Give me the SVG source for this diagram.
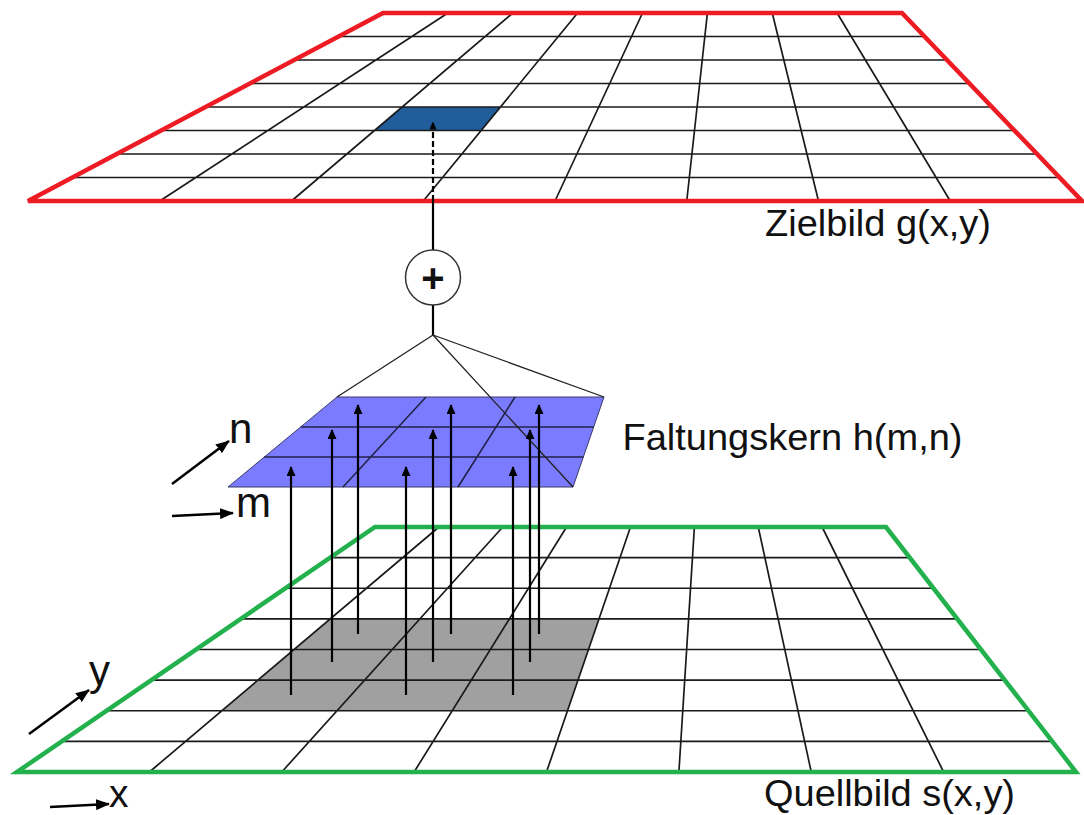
<svg xmlns="http://www.w3.org/2000/svg" width="1084" height="815" viewBox="0 0 1084 815">
<style>
.grid{fill:none;stroke:#1a1a1a;stroke-width:1.7}
.kgrid{fill:none;stroke:#23234a;stroke-width:1.6}
.lbl{font-family:"Liberation Sans",Arial,sans-serif;fill:#111}
.arr{fill:none;stroke:#000;stroke-width:2.2}
.thin{fill:none;stroke:#222;stroke-width:1.3}
.axis{fill:none;stroke:#000;stroke-width:2.5}
</style>
<defs>
<marker id="ah" markerUnits="userSpaceOnUse" markerWidth="10" markerHeight="9" refX="9" refY="4.5" orient="auto"><path d="M0,0 L10,4.5 L0,9 z" fill="#000"/></marker>
<marker id="ahs" markerUnits="userSpaceOnUse" markerWidth="8" markerHeight="7" refX="7.5" refY="3.5" orient="auto"><path d="M0,0 L8,3.5 L0,7 z" fill="#000"/></marker>
<marker id="ahx" markerUnits="userSpaceOnUse" markerWidth="14" markerHeight="11" refX="13" refY="5.5" orient="auto"><path d="M0,0 L14,5.5 L0,11 z" fill="#000"/></marker>
</defs>
<rect width="1084" height="815" fill="#fff"/>
<g id="zielbild">
<polygon points="402.1,107 500.4,107 481.1,130.5 374.5,130.5" fill="#215c9b"/>
<path class="grid" d="M338.6,36.5H924.5 M294.25,60H947 M249.9,83.5H969.5 M205.5,107H992 M161.1,130.5H1014.5 M116.75,154H1037 M72.4,177.5H1059.5 M447.9,13L159.75,201 M512.75,13L291.5,201 M577.6,13L423.25,201 M642.5,13L555,201 M707.4,13L686.75,201 M772.25,13L818.5,201 M837.1,13L950.25,201"/>
<polygon points="383,13 902,13 1082,201 28,201" fill="none" stroke="#ed1c24" stroke-width="4.5" stroke-linejoin="miter"/>
<text class="lbl" x="765" y="236" font-size="36" textLength="226" lengthAdjust="spacingAndGlyphs">Zielbild g(x,y)</text>
</g>
<g id="quellbild">
<polygon points="330.3,618.9 599,618.9 567.5,710.75 221.75,710.75" fill="#a0a0a0"/>
<path class="grid" d="M330.25,557.6H909.75 M285.5,588.25H933.5 M240.75,618.9H957.25 M196,649.5H981 M151.25,680.1H1004.75 M106.5,710.75H1028.5 M61.75,741.4H1052.25 M438.9,527L149.4,772 M502.75,527L281.75,772 M566.6,527L414.1,772 M630.5,527L546.5,772 M694.4,527L678.9,772 M758.25,527L811.25,772 M822.1,527L943.6,772"/>
<polygon points="375,527 886,527 1076,772 17,772" fill="none" stroke="#22b14c" stroke-width="4.5"/>
<text class="lbl" x="764" y="806" font-size="36" textLength="251" lengthAdjust="spacingAndGlyphs">Quellbild s(x,y)</text>
</g>
<g id="kernel">
<polygon points="337,397 604,397 573,487 228,487" fill="#7b7bff" stroke="#3a3a6a" stroke-width="1"/>
<path class="kgrid" d="M300.7,427H593.7 M264.3,457H583.3 M426,397L343,487 M515,397L458,487"/>
<text class="lbl" x="622.5" y="450" font-size="37" textLength="340" lengthAdjust="spacingAndGlyphs">Faltungskern h(m,n)</text>
</g>
<g id="connectors">
<path class="arr" d="M433,201V122" stroke-dasharray="6,3" marker-end="url(#ahs)"/>
<path class="arr" d="M433,201V250 M433,305V335"/>
<path class="thin" d="M433,335L337,397 M433,335L604,397 M433,335L573,487"/>
<path class="arr" d="M291,695V467" marker-end="url(#ah)"/>
<path class="arr" d="M406,695V467" marker-end="url(#ah)"/>
<path class="arr" d="M513,695V467" marker-end="url(#ah)"/>
<path class="arr" d="M332,662V430" marker-end="url(#ah)"/>
<path class="arr" d="M433,662V430" marker-end="url(#ah)"/>
<path class="arr" d="M530,662V430" marker-end="url(#ah)"/>
<path class="arr" d="M358,634V405" marker-end="url(#ah)"/>
<path class="arr" d="M451,634V405" marker-end="url(#ah)"/>
<path class="arr" d="M539,634V405" marker-end="url(#ah)"/>
</g>
<g id="sum">
<circle cx="433" cy="277.5" r="27.5" fill="#fff" stroke="#333" stroke-width="1.5"/>
<text class="lbl" x="433" y="292" font-size="40" font-weight="bold" text-anchor="middle">+</text>
</g>
<g id="axes">
<path class="axis" d="M172,484L229,441" marker-end="url(#ahx)"/>
<text class="lbl" x="229" y="443" font-size="42">n</text>
<path class="axis" d="M172,516L233,513" marker-end="url(#ahx)"/>
<text class="lbl" x="236" y="517" font-size="42">m</text>
<path class="axis" d="M29,734L89,690" marker-end="url(#ahx)"/>
<text class="lbl" x="89" y="685" font-size="42">y</text>
<path class="axis" d="M50,807L109,804" marker-end="url(#ahx)"/>
<text class="lbl" x="109" y="807" font-size="39">x</text>
</g>
</svg>
